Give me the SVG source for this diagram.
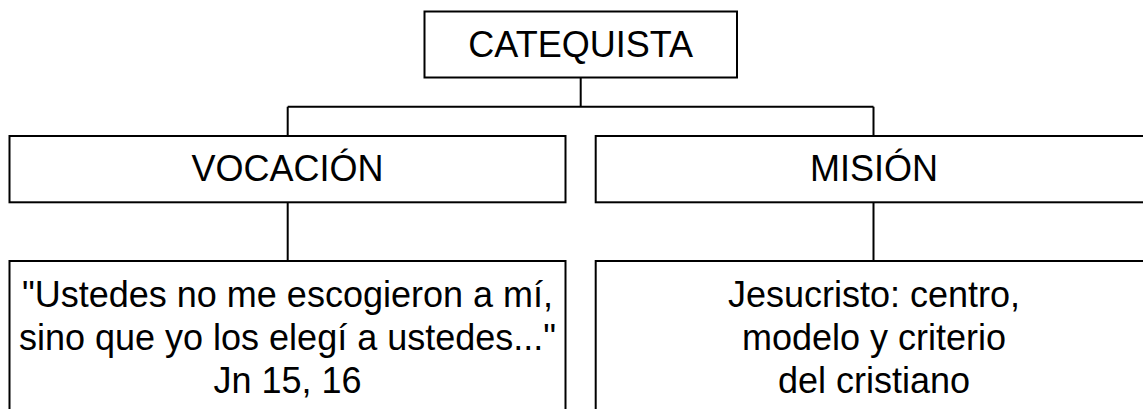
<svg xmlns="http://www.w3.org/2000/svg" width="1143" height="409" viewBox="0 0 1143 409">
<style>
.box{fill:#ffffff;stroke:#000000;stroke-width:2}
.conn{fill:none;stroke:#000000;stroke-width:2}
.t{font-family:"Liberation Sans",Arial,sans-serif;font-size:36px;fill:#000000;text-anchor:middle}
</style>
<rect width="1143" height="409" fill="#ffffff"/>
<g id="connectors">
<path class="conn" d="M580.7,77.5 V106.7 M287.7,106.7 H873.5 M287.7,106.7 V136 M873.5,106.7 V136 M287.7,202.3 V261 M873.5,202.3 V261"/>
</g>
<g id="catequista">
<rect class="box" x="424.5" y="11.5" width="312.5" height="66"/>
<text class="t" x="580.7" y="56.5">CATEQUISTA</text>
</g>
<g id="vocacion">
<rect class="box" x="9.5" y="136" width="556" height="66.3"/>
<text class="t" x="287.5" y="181">VOCACIÓN</text>
</g>
<g id="mision">
<rect class="box" x="595.7" y="136" width="556" height="66.3"/>
<text class="t" x="874" y="181">MISIÓN</text>
</g>
<g id="vocacion-detalle">
<rect class="box" x="9.5" y="261" width="556" height="170"/>
<text class="t" x="287.5" y="306.5">"Ustedes no me escogieron a mí,</text>
<text class="t" x="287.5" y="349.7">sino que yo los elegí a ustedes..."</text>
<text class="t" x="287.5" y="392.9">Jn 15, 16</text>
</g>
<g id="mision-detalle">
<rect class="box" x="595.7" y="261" width="556" height="170"/>
<text class="t" x="874" y="306.5">Jesucristo: centro,</text>
<text class="t" x="874" y="349.7">modelo y criterio</text>
<text class="t" x="874" y="392.9">del cristiano</text>
</g>
</svg>
